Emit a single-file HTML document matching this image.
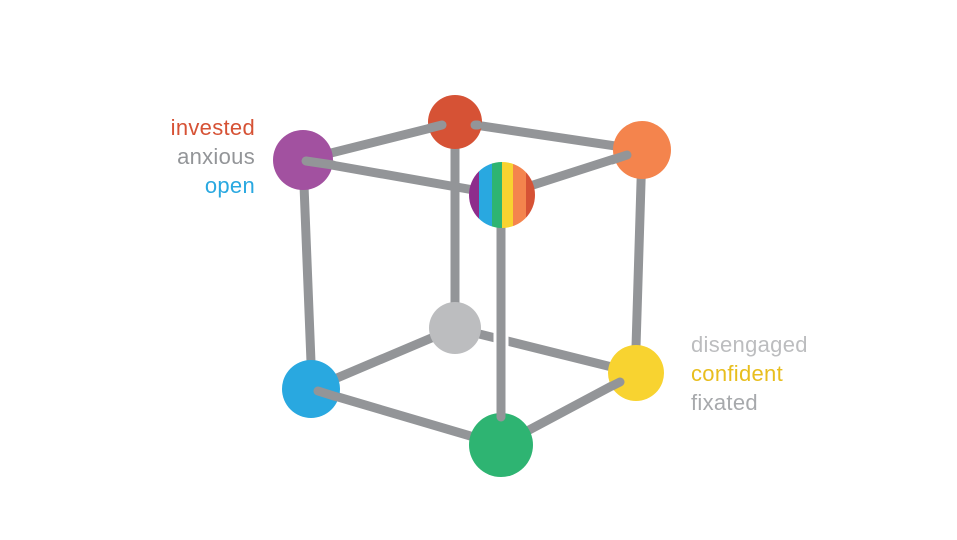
<!DOCTYPE html>
<html><head><meta charset="utf-8"><style>
html,body{margin:0;padding:0;background:#fff;}
svg{display:block}
text{font-family:"Liberation Sans","DejaVu Sans",sans-serif;font-size:22px;letter-spacing:0.3px;}
</style></head><body>
<svg width="957" height="540" viewBox="0 0 957 540" xmlns="http://www.w3.org/2000/svg">
<defs>
<clipPath id="rc"><circle cx="502" cy="195" r="33"/></clipPath>
</defs>
<g stroke="#939598" stroke-width="9" stroke-linecap="round" fill="none">
<line x1="455" y1="122" x2="455" y2="305"/>
<line x1="303" y1="160" x2="455" y2="122"/>
<line x1="455" y1="122" x2="642" y2="150"/>
<line x1="303" y1="160" x2="311" y2="362"/>
<line x1="642" y1="150" x2="636" y2="347"/>
<line x1="455" y1="328" x2="311" y2="389"/>
<line x1="455" y1="328" x2="636" y2="373"/>
<line x1="311" y1="389" x2="501" y2="445"/>
<line x1="501" y1="445" x2="636" y2="373"/>
<line x1="303" y1="160" x2="502" y2="195"/>
<line x1="502" y1="195" x2="642" y2="150"/>
</g>
<circle cx="303" cy="160" r="30" fill="#a251a0"/>
<circle cx="455" cy="122" r="27" fill="#d65235"/>
<circle cx="642" cy="150" r="29" fill="#f4844d"/>
<circle cx="455" cy="328" r="26" fill="#bcbdbf"/>
<circle cx="311" cy="389" r="29" fill="#29a8e0"/>
<circle cx="636" cy="373" r="28" fill="#f8d330"/>
<circle cx="501" cy="445" r="32" fill="#2eb472"/>
<line x1="501" y1="195" x2="501" y2="413" stroke="#fff" stroke-width="15"/>
<line x1="501" y1="195" x2="501" y2="417" stroke="#939598" stroke-width="9" stroke-linecap="round"/>
<g clip-path="url(#rc)">
<rect x="469" y="162" width="10" height="66" fill="#8e2d8c"/>
<rect x="479" y="162" width="13" height="66" fill="#29a8e0"/>
<rect x="492" y="162" width="10" height="66" fill="#2eb472"/>
<rect x="502" y="162" width="11" height="66" fill="#f8d330"/>
<rect x="513" y="162" width="13" height="66" fill="#f4844d"/>
<rect x="526" y="162" width="10" height="66" fill="#d65235"/>
</g>
<g stroke="#939598" stroke-width="9" stroke-linecap="round">
<line x1="333" y1="165" x2="306" y2="161"/>
<line x1="430" y1="128" x2="442" y2="125"/>
<line x1="475" y1="125" x2="478" y2="125"/>
<line x1="612" y1="160" x2="627" y2="155"/>
<line x1="337" y1="397" x2="318" y2="391"/>
<line x1="612" y1="386" x2="620" y2="382"/>
</g>
<text x="255" y="135" text-anchor="end" fill="#d65235">invested</text>
<text x="255" y="164" text-anchor="end" fill="#939598">anxious</text>
<text x="255" y="193" text-anchor="end" fill="#29a8e0">open</text>
<text x="691" y="352" fill="#bcbdbf">disengaged</text>
<text x="691" y="381" fill="#e8be1e">confident</text>
<text x="691" y="410" fill="#a7a9ac">fixated</text>
</svg>
</body></html>
